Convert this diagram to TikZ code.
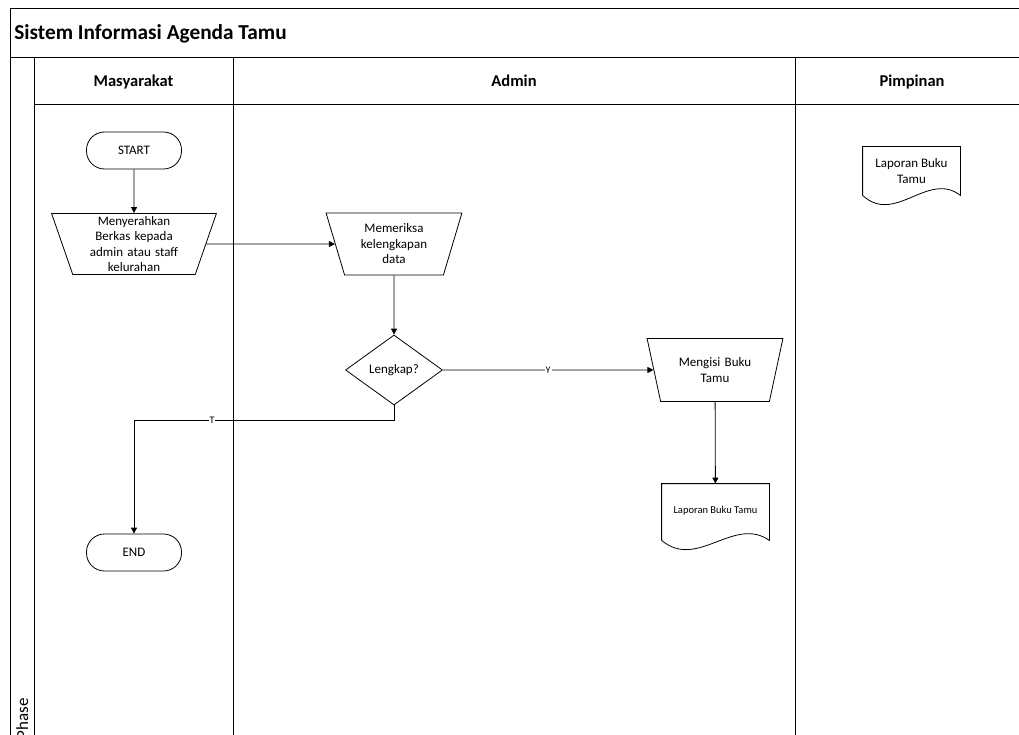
\documentclass[tikz,border=0pt]{standalone}
\usepackage{fontspec}
\setmainfont{Carlito}
\usetikzlibrary{arrows.meta, shapes.geometric, calc}

\newcommand{\bodyfont}{\fontsize{13}{15.5}\selectfont}
% document symbol with wavy bottom, drawn round a named node
\newcommand{\docshape}[1]{%
  \draw (#1.south west) -- (#1.north west) -- (#1.north east) -- (#1.south east)
    .. controls ($(#1.south east)!0.33!(#1.south west)+(0,-25)$) and ($(#1.south east)!0.67!(#1.south west)+(0,30)$) .. (#1.south west);}

\tikzset{
  frame/.style={line width=1pt},
  terminal/.style={rectangle, draw, rounded corners=18pt, minimum width=95pt, minimum height=37pt, font=\bodyfont},
  manual/.style={trapezium, shape border rotate=180, trapezium stretches=true, draw, align=center, inner sep=1pt, font=\bodyfont},
  decision/.style={diamond, draw, aspect=1.4, inner sep=1pt, minimum width=97pt, minimum height=70pt, font=\bodyfont},
  docnode/.style={rectangle, inner sep=0pt, align=center},
  arr/.style={-{Triangle[length=6pt,width=6pt]}, line width=0.8pt},
  lbl/.style={fill=white, inner sep=1pt, font=\fontsize{10}{12}\selectfont},
  lane/.style={font=\fontsize{16.5}{19}\selectfont\bfseries, anchor=base},
}

\begin{document}
\begin{tikzpicture}[x=1pt, y=-1pt, line width=0.8pt]
    \useasboundingbox (0,0) rectangle (1019,735);
    \clip (0,0) rectangle (1019,735);
    % pool and lanes
    \draw[frame] (1030,9) -- (10,9) -- (10,745);
    \draw[frame] (10,58) -- (1030,58);
    \draw[frame] (34,105) -- (1030,105);
    \draw[frame] (34,58) -- (34,745);
    \draw[frame] (233,58) -- (233,745);
    \draw[frame] (795,58) -- (795,745);
    \node[anchor=base west, font=\fontsize{21.3}{25}\selectfont\bfseries, inner sep=0pt] (title) at (14,40) {Sistem Informasi Agenda Tamu};
    \node[lane] (hmas) at (133.5,87) {Masyarakat};
    \node[lane] (hadm) at (514,87) {Admin};
    \node[lane] (hpim) at (912,87) {Pimpinan};
    \node[rotate=90, anchor=base east, font=\fontsize{17}{20}\selectfont, inner sep=0pt] (phase) at (28,698) {Phase};
    % Masyarakat
    \node[terminal] (start) at (134,150.5) {START};
    \node[manual, trapezium angle=73, minimum width=165pt, minimum height=61pt, text width=100pt] (serah) at (134,244) {Menyerahkan\\Berkas kepada\\admin atau staff\\kelurahan};
    \node[terminal] (end) at (134,552.5) {END};
    % Admin
    \node[manual, trapezium angle=70, minimum width=136pt, minimum height=62pt, text width=80pt] (periksa) at (394,244) {Memeriksa\\kelengkapan\\data};
    \node[decision] (lengkap) at (394,370) {Lengkap?};
    \node[manual, trapezium angle=69, minimum width=136pt, minimum height=63pt, text width=80pt] (isi) at (715,370) {Mengisi Buku\\Tamu};
    \node[docnode, minimum width=107pt, minimum height=56pt, font=\fontsize{10.5}{12}\selectfont] (lap1) at (715.5,512) {\raisebox{4pt}{Laporan Buku Tamu}};
    \docshape{lap1}
    % Pimpinan
    \node[docnode, minimum width=97pt, minimum height=48pt, font=\bodyfont] (lap2) at (911.5,171) {Laporan Buku\\Tamu};
    \docshape{lap2}
    % connectors
    \draw[arr] (start) -- (serah);
    \draw[arr] (serah) -- (periksa);
    \draw[arr] (periksa) -- (lengkap);
    \draw[arr] (lengkap) -- node[lbl] {Y} (isi);
    \draw[arr] (isi) -- (lap1);
    \draw[arr] (lengkap.south) -- ++(0,15) -| node[lbl, pos=0.35] {T} (end.north);
\end{tikzpicture}
\end{document}
